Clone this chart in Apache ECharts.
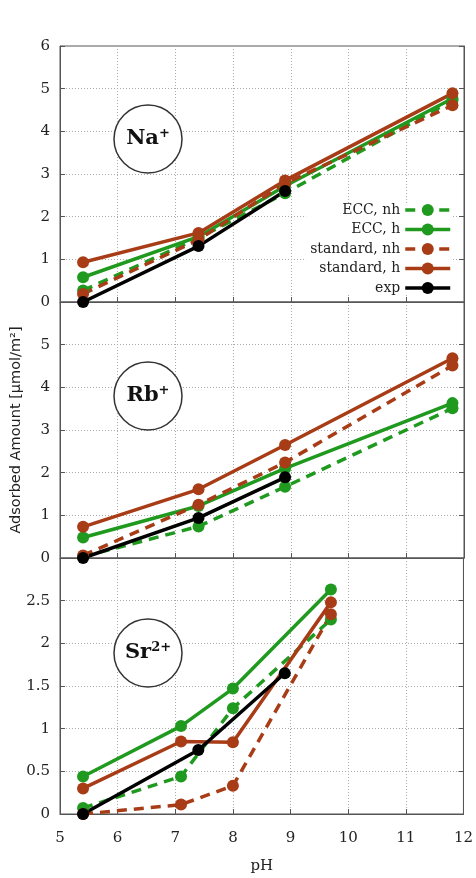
<!DOCTYPE html>
<html>
<head>
<meta charset="utf-8">
<script src="https://cdn.jsdelivr.net/npm/echarts@6/dist/echarts.min.js"></script>
<style>
  html, body { margin: 0; padding: 0; background: #fff; }
</style>
</head>
<body>
<div id="chart" style="width:476px;height:878px;"></div>
<script>
// pH positions
const phMain = [5.4, 7.4, 8.9, 11.8];
const phExp = [5.4, 7.4, 8.9];
const phSr = [5.4, 7.1, 8.0, 9.7];

// Na+
const naEccNh = [0.27, 1.5, 2.55, 4.73];
const naEccH = [0.58, 1.53, 2.72, 4.77];
const naStdNh = [0.19, 1.46, 2.78, 4.61];
const naStdH = [0.93, 1.62, 2.85, 4.89];
const naExp = [0, 1.31, 2.6];

// Rb+
const rbEccNh = [0.03, 0.74, 1.67, 3.51];
const rbEccH = [0.48, 1.22, 2.1, 3.63];
const rbStdNh = [0.06, 1.25, 2.24, 4.51];
const rbStdH = [0.73, 1.61, 2.65, 4.68];
const rbExp = [0, 0.94, 1.89];

// Sr2+
const srEccNh = [0.07, 0.44, 1.24, 2.28];
const srEccH = [0.44, 1.03, 1.47, 2.63];
const srStdNh = [0.0, 0.11, 0.33, 2.34];
const srStdH = [0.30, 0.85, 0.84, 2.48];
const srExp = [0, 0.75, 1.65];

const names = ["ECC, nh", "ECC, h", "standard, nh", "standard, h", "exp"];

const GREEN = "#1f9a1f";
const BROWN = "#a83c16";
const BLACK = "#000000";
const SERIF = "DejaVu Serif";
const SANS = "DejaVu Sans";

function pair(xs, ys) {
  return ys.map((v, i) => [xs[i], v]);
}

function line(name, idx, xs, ys, color, dashed) {
  return {
    name: name,
    type: "line",
    xAxisIndex: idx,
    yAxisIndex: idx,
    data: pair(xs, ys),
    symbol: "circle",
    symbolSize: 12,
    itemStyle: { color: color },
    lineStyle: { color: color, width: 3.5, type: dashed ? [10, 7] : "solid" },
    emphasis: { disabled: true },
    animation: false
  };
}

const panels = [
  { xs: phMain, vals: [naEccNh, naEccH, naStdNh, naStdH], exp: naExp },
  { xs: phMain, vals: [rbEccNh, rbEccH, rbStdNh, rbStdH], exp: rbExp },
  { xs: phSr, vals: [srEccNh, srEccH, srStdNh, srStdH], exp: srExp }
];

const series = [];
panels.forEach((p, i) => {
  series.push(line(names[0], i, p.xs, p.vals[0], GREEN, true));
  series.push(line(names[1], i, p.xs, p.vals[1], GREEN, false));
  series.push(line(names[2], i, p.xs, p.vals[2], BROWN, true));
  series.push(line(names[3], i, p.xs, p.vals[3], BROWN, false));
  series.push(line(names[4], i, phExp, p.exp, BLACK, false));
});

const tops = [46, 302, 558];
const grid = tops.map(t => ({
  left: 60, right: 12, top: t, height: 256,
  show: true, borderColor: "#555", borderWidth: 1, backgroundColor: "transparent"
}));

const splitStyle = { show: true, lineStyle: { color: "#aaa", type: [1, 2], width: 1 } };

const xAxis = [0, 1, 2].map(i => ({
  type: "value", gridIndex: i, min: 5, max: 12, interval: 1,
  axisLine: { show: true, lineStyle: { color: "#555", width: 1 } },
  axisTick: { show: true, inside: true, length: 5, lineStyle: { color: "#555" } },
  axisLabel: { show: i === 2, color: "#222", fontFamily: SERIF, fontSize: 15, margin: 17 },
  splitLine: splitStyle,
  name: i === 2 ? "pH" : "",
  nameLocation: "middle",
  nameGap: 45,
  nameTextStyle: { color: "#222", fontFamily: SERIF, fontSize: 15 }
}));

const yRanges = [
  { max: 6, interval: 1, showMax: true },
  { max: 6, interval: 1, showMax: false },
  { max: 3, interval: 0.5, showMax: false }
];

const yAxis = [];
yRanges.forEach((r, i) => {
  yAxis.push({
    type: "value", gridIndex: i, min: 0, max: r.max, interval: r.interval,
    axisLine: { show: true, lineStyle: { color: "#555", width: 1 } },
    axisTick: { show: true, inside: true, length: 5, lineStyle: { color: "#555" } },
    axisLabel: { color: "#222", fontFamily: SERIF, fontSize: 15, margin: 10, showMaxLabel: r.showMax },
    splitLine: splitStyle,
    name: i === 1 ? "Adsorbed Amount [μmol/m²]" : "",
    nameLocation: "middle",
    nameGap: 36,
    nameTextStyle: { color: "#222", fontFamily: SANS, fontSize: 14.5 }
  });
});
// mirrored ticks on the right side
yRanges.forEach((r, i) => {
  yAxis.push({
    type: "value", gridIndex: i, min: 0, max: r.max, interval: r.interval, position: "right",
    axisLine: { show: true, lineStyle: { color: "#555", width: 1 } },
    axisTick: { show: true, inside: true, length: 5, lineStyle: { color: "#555" } },
    axisLabel: { show: false },
    splitLine: { show: false }
  });
});

function badge(cx, cy, rich, text) {
  return {
    type: "group",
    x: cx, y: cy,
    children: [
      { type: "circle", shape: { cx: 0, cy: 0, r: 34 },
        style: { fill: "#fff", stroke: "#333", lineWidth: 1.5 }, z: 10 },
      { type: "text", x: 0, y: 0, z: 11,
        style: { text: text, rich: rich, align: "center", verticalAlign: "middle" } }
    ]
  };
}

const ionRich = {
  b: { fontFamily: SERIF, fontWeight: "bold", fontSize: 21, fill: "#111", lineHeight: 24 },
  s: { fontFamily: SERIF, fontWeight: "bold", fontSize: 13, fill: "#111", verticalAlign: "top", padding: [0, 0, 10, 0] }
};

const chart = echarts.init(document.getElementById("chart"), null, { renderer: "canvas" });
chart.setOption({
  backgroundColor: "#fff",
  animation: false,
  grid: grid,
  xAxis: xAxis,
  yAxis: yAxis,
  legend: {
    data: names,
    orient: "vertical",
    right: 24,
    top: 203,
    align: "right",
    itemWidth: 45,
    itemHeight: 15,
    itemGap: 5.5,
    selectedMode: false,
    backgroundColor: "#fff",
    padding: [0, 0, 0, 4],
    lineStyle: { width: 3.5 },
    textStyle: { color: "#222", fontFamily: SERIF, fontSize: 14 }
  },
  graphic: [
    badge(148, 139, ionRich, "{b|Na}{s|+}"),
    badge(148, 396, ionRich, "{b|Rb}{s|+}"),
    badge(148, 653, ionRich, "{b|Sr}{s|2+}")
  ],
  series: series
});
</script>
</body>
</html>
